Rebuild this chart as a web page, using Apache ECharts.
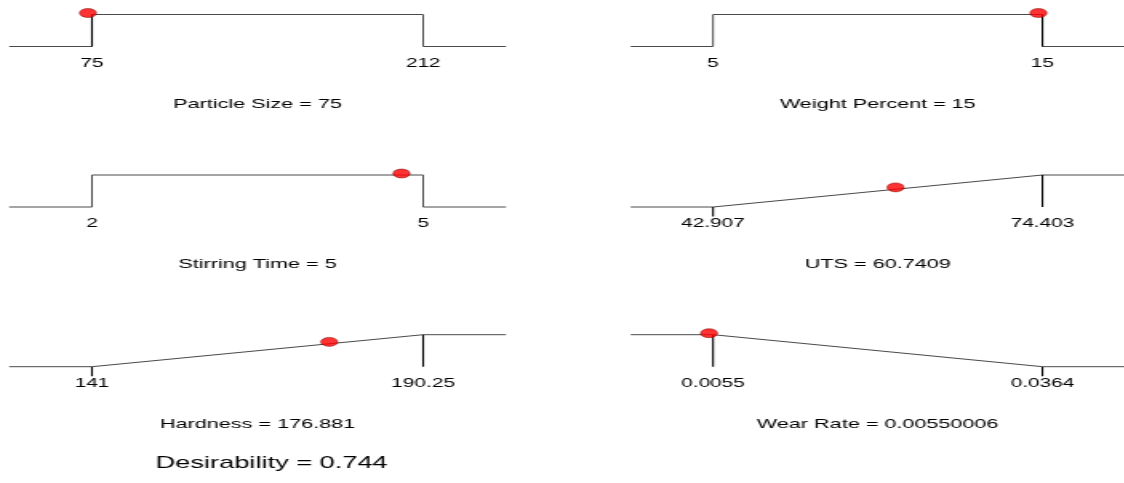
<!DOCTYPE html>
<html>
<head>
<meta charset="utf-8">
<script src="https://cdn.jsdelivr.net/npm/echarts@6/dist/echarts.min.js"></script>
<style>
html,body{margin:0;padding:0;background:#fff;overflow:hidden;}
#wrap{width:1124px;height:483px;overflow:hidden;}
#chart{width:702.5px;height:483px;transform:scaleX(1.6);transform-origin:0 0;}
</style>
</head>
<body>
<div id="wrap"><div id="chart"></div></div>
<script>
// ---- data ----
const factorNames = ["Particle Size", "Weight Percent", "Stirring Time", "UTS", "Hardness", "Wear Rate"];
const goals = ["range", "range", "range", "max", "max", "min"];
const lowLimits = [75, 5, 2, 42.907, 141, 0.0055];
const highLimits = [212, 15, 5, 74.403, 190.25, 0.0364];
const lowLabels = ["75", "5", "2", "42.907", "141", "0.0055"];
const highLabels = ["212", "15", "5", "74.403", "190.25", "0.0364"];
const currentLabels = ["75", "15", "5", "60.7409", "176.881", "0.00550006"];
const dotPositions = [75, 15, 4.84, 60.7409, 176.881, 0.00550006];
const desirabilityText = "Desirability = 0.744";

// ---- layout (internal px, chart is stretched horizontally by CSS) ----
const colLeft = [5.75, 394.2];
const rowTop = [14.5, 175, 334.7];
const unitPx = 32;
const yMin = -0.25;
const gridW = 310.5;
const FONT = "Liberation Sans, Arial, sans-serif";

function curveFor(i, xmin, xmax) {
  const lo = lowLimits[i], hi = highLimits[i];
  if (goals[i] === "range") return [[xmin,0],[lo,0],[lo,1],[hi,1],[hi,0],[xmax,0]];
  if (goals[i] === "max") return [[xmin,0],[lo,0],[hi,1],[xmax,1]];
  return [[xmin,1],[lo,1],[hi,0],[xmax,0]];
}
function interp(curve, x) {
  let best = -Infinity;
  for (let k = 0; k < curve.length - 1; k++) {
    const [x1,y1] = curve[k], [x2,y2] = curve[k+1];
    if (x2 === x1) continue;
    if (x >= x1 && x <= x2) best = Math.max(best, y1 + (y2 - y1) * (x - x1) / (x2 - x1));
  }
  return best;
}
function insideD(i, which) {
  const g = goals[i];
  if (g === "range") return 1;
  if (g === "max") return which === "lo" ? 0 : 1;
  return which === "lo" ? 1 : 0;
}

const grids = [], xAxes = [], yAxes = [], series = [];
factorNames.forEach((name, i) => {
  const row = Math.floor(i / 2), col = i % 2;
  const lo = lowLimits[i], hi = highLimits[i];
  const span = hi - lo;
  const xmin = lo - 0.25 * span, xmax = hi + 0.25 * span;
  grids.push({left: colLeft[col], top: rowTop[row], width: gridW, height: unitPx * (1 - yMin)});
  xAxes.push({
    gridIndex: i, type: "value", min: xmin, max: xmax, position: "bottom",
    axisLine: {show: false}, axisTick: {show: false}, splitLine: {show: false},
    axisLabel: {
      show: true, customValues: [lo, hi], margin: 2, color: "#000",
      fontFamily: FONT, fontSize: 13,
      formatter: v => (Math.abs(v - lo) < Math.abs(v - hi) ? lowLabels[i] : highLabels[i])
    },
    name: name + " = " + currentLabels[i], nameLocation: "middle", nameGap: 42.5,
    nameTextStyle: {color: "#000", fontFamily: FONT, fontSize: 13.5}
  });
  yAxes.push({gridIndex: i, type: "value", min: yMin, max: 1, show: false});
  const curve = curveFor(i, xmin, xmax);
  series.push({
    type: "line", xAxisIndex: i, yAxisIndex: i, data: curve, symbol: "none",
    silent: true, clip: false, lineStyle: {color: "#4a4a4a", width: 1}, z: 2
  });
  [["lo", lo], ["hi", hi]].forEach(([w, xv]) => {
    // step limits of a target range only get a dark tick where the current setting sits
    if (goals[i] === "range" && Math.abs(xv - dotPositions[i]) > 1e-9) return;
    const d = insideD(i, w);
    const d2 = d === 1 ? 0 : -0.3;
    series.push({
      type: "line", xAxisIndex: i, yAxisIndex: i, data: [[xv, d], [xv, d2]],
      symbol: "none", silent: true, clip: false,
      lineStyle: {color: "#000", width: 1.1}, z: 3
    });
  });
  const dv = interp(curve, dotPositions[i]);
  series.push({
    type: "scatter", xAxisIndex: i, yAxisIndex: i, data: [[dotPositions[i], dv]],
    symbol: "circle", symbolSize: [10.5, 9], symbolOffset: [-2.5, -1.5], clip: false, silent: true,
    itemStyle: {color: "#ff0000", borderColor: "#7a0000", borderWidth: 0.6}, z: 5
  });
});

const chart = echarts.init(document.getElementById("chart"), null, {renderer: "canvas"});
chart.setOption({
  animation: false,
  backgroundColor: "#fff",
  grid: grids, xAxis: xAxes, yAxis: yAxes, series: series,
  graphic: [{
    type: "text", x: 169.8, y: 463,
    style: {text: desirabilityText, align: "center", verticalAlign: "middle",
            font: "17px " + FONT, fill: "#000"}
  }]
});
</script>
</body>
</html>
